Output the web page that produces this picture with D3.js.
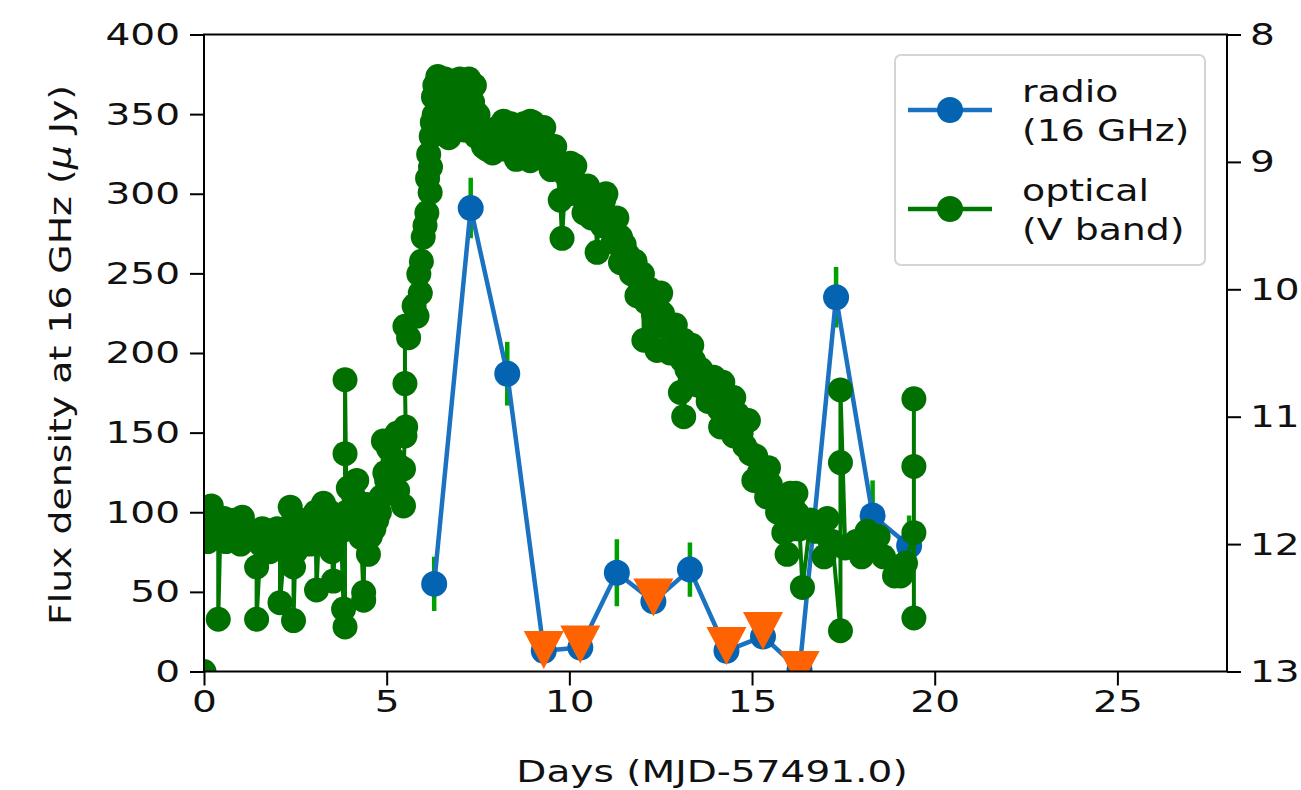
<!DOCTYPE html>
<html><head><meta charset="utf-8">
<script src="https://cdn.jsdelivr.net/npm/d3@7"></script>
<style>body{margin:0;background:#fff;} svg{display:block;} text{font-family:"DejaVu Sans",sans-serif;}</style>
</head><body><svg id="c" width="1301" height="790"></svg>
<script>
// ---------- data ----------
const xTicks = [0, 5, 10, 15, 20, 25];
const yTicksLeft = [0, 50, 100, 150, 200, 250, 300, 350, 400];
const yTicksRight = [8, 9, 10, 11, 12, 13];

// radio (16 GHz) flux density, micro-Jy
const radioDays = [6.3, 7.3, 8.3, 9.3, 10.3, 11.3, 12.3, 13.3, 14.3, 15.3, 16.3, 17.3, 18.3, 19.3];
const radioFlux = [55, 291, 187, 13, 15, 62, 44, 64, 13, 22, 1, 235, 98, 79];
const radioErr  = [17, 19, 20, 0, 0, 21, 0, 17, 0, 0, 0, 19, 22, 19];

// radio upper limits
const limitDays = [9.3, 10.3, 12.3, 14.3, 15.3, 16.3];
const limitFlux = [13.5, 17, 46.5, 16, 25.5, 1];

// optical V-band: [day, magnitude]
const optical = [
[0.05,11.75],[0.10,11.98],[0.15,11.85],[0.20,11.70],[0.30,11.81],[0.39,11.93],[0.39,12.59],[0.45,11.88],[0.55,11.80],[0.60,11.98],
[0.75,11.85],[0.85,11.81],[0.90,11.94],[1.00,12.00],[1.05,11.79],[1.15,11.88],[1.30,11.93],[1.44,11.90],[1.44,12.18],[1.44,12.59],
[1.55,12.00],[1.60,11.88],[1.72,11.94],[1.80,12.06],[1.90,12.00],[2.00,11.88],[2.08,11.94],[2.08,12.46],[2.20,12.04],[2.30,11.94],
[2.36,11.71],[2.40,11.84],[2.45,12.18],[2.45,12.60],[2.50,12.06],[2.60,12.00],[2.80,11.81],[2.90,12.00],[2.95,11.85],[3.05,11.75],
[3.08,12.36],[3.15,11.88],[3.20,11.94],[3.27,11.68],[3.30,11.80],[3.40,11.94],[3.45,11.75],[3.50,12.06],[3.54,12.29],[3.60,11.88],
[3.70,11.78],[3.75,11.90],[3.82,12.51],[3.86,12.65],[3.86,11.29],[3.86,10.71],[3.90,11.75],[3.95,11.56],[4.00,11.88],[4.05,11.75],
[4.10,11.63],[4.18,11.50],[4.20,11.69],[4.25,11.81],[4.30,11.95],[4.37,12.44],[4.37,12.38],[4.40,11.86],[4.45,11.69],[4.50,12.08],
[4.55,11.94],[4.60,11.75],[4.65,11.88],[4.73,11.81],[4.80,11.75],[4.85,11.63],[4.91,11.19],[4.95,11.44],[5.00,11.50],[5.05,11.25],
[5.10,11.60],[5.20,11.34],[5.28,11.13],[5.30,11.58],[5.35,11.39],[5.46,11.70],[5.46,11.41],[5.50,11.15],[5.52,11.08],[5.50,10.74],
[5.50,10.29],[5.60,10.38],[5.75,10.13],[5.83,10.21],[5.88,9.88],[5.92,10.03],[5.95,9.78],[6.00,9.59],[6.05,9.50],[6.10,9.40],
[6.12,9.13],[6.15,8.94],[6.19,9.24],[6.20,9.04],[6.22,8.80],[6.25,8.69],[6.28,8.49],[6.30,8.63],[6.32,8.40],[6.40,8.33],
[6.45,8.48],[6.50,8.69],[6.55,8.56],[6.60,8.35],[6.65,8.40],[6.70,8.81],[6.75,8.69],[6.80,8.50],[6.85,8.38],[6.90,8.75],
[6.95,8.60],[7.00,8.35],[7.05,8.44],[7.10,8.65],[7.15,8.75],[7.20,8.48],[7.25,8.35],[7.30,8.75],[7.35,8.53],[7.40,8.40],
[7.45,8.80],[7.50,8.63],[7.55,8.73],[7.65,8.88],[7.70,8.75],[7.74,8.90],[7.85,8.78],[7.90,8.93],[8.00,8.88],[8.05,8.73],
[8.10,8.75],[8.20,8.68],[8.25,8.90],[8.35,8.81],[8.40,8.70],[8.50,8.88],[8.55,8.98],[8.60,8.75],[8.70,8.83],[8.75,8.70],
[8.85,8.88],[8.93,8.68],[8.93,8.99],[9.00,8.69],[9.10,8.81],[9.20,8.90],[9.30,8.73],[9.40,8.98],[9.50,9.06],[9.60,8.88],
[9.66,9.04],[9.75,9.30],[9.80,9.60],[9.90,9.10],[10.00,9.25],[10.03,9.01],[10.10,9.13],[10.15,9.03],[10.20,9.25],[10.30,9.19],
[10.40,9.40],[10.45,9.31],[10.50,9.19],[10.60,9.44],[10.70,9.30],[10.76,9.71],[10.80,9.38],[10.90,9.50],[10.94,9.30],[11.00,9.25],
[11.10,9.50],[11.20,9.63],[11.30,9.44],[11.40,9.59],[11.40,9.79],[11.50,9.65],[11.60,9.73],[11.70,9.88],[11.80,9.78],[11.85,10.05],
[11.95,10.00],[12.00,9.88],[12.04,10.40],[12.10,10.10],[12.20,10.00],[12.30,10.19],[12.35,10.28],[12.40,10.48],[12.50,10.03],[12.55,10.19],
[12.60,10.25],[12.70,10.31],[12.75,10.50],[12.85,10.50],[12.90,10.28],[13.00,10.44],[13.04,10.81],[13.10,10.56],[13.13,10.40],[13.13,11.00],
[13.22,10.63],[13.30,10.73],[13.35,10.44],[13.40,10.56],[13.50,10.75],[13.60,10.63],[13.70,10.78],[13.80,10.88],[13.95,10.69],[14.00,10.78],
[14.10,10.94],[14.14,11.08],[14.20,10.73],[14.32,10.84],[14.40,11.00],[14.50,10.85],[14.50,11.15],[14.60,10.98],[14.70,11.13],[14.80,11.23],
[14.90,11.03],[14.96,11.29],[15.05,11.50],[15.10,11.31],[15.20,11.44],[15.30,11.53],[15.40,11.63],[15.45,11.40],[15.50,11.53],[15.60,11.63],
[15.70,11.75],[15.80,11.68],[15.87,11.91],[15.96,12.08],[16.00,11.75],[16.05,11.60],[16.10,11.69],[16.15,11.88],[16.20,11.60],[16.24,11.76],
[16.30,11.88],[16.38,12.34],[16.60,11.81],[16.75,11.90],[16.97,12.10],[17.06,11.80],[17.20,11.98],[17.42,12.68],[17.42,11.36],[17.42,10.79],
[17.55,12.03],[17.85,11.98],[18.00,12.10],[18.15,11.90],[18.30,12.03],[18.45,11.94],[18.60,12.10],[18.90,12.25],[19.07,12.25],[19.20,12.15],
[19.43,11.91],[19.43,10.86],[19.43,11.39],[19.43,12.58]
];
// isolated faint optical point (not joined)
const opticalFaint = [[0.0, 13.0]];

const legendLabels = [["radio", "(16 GHz)"], ["optical", "(V band)"]];

// ---------- layout ----------
const X0 = 204, X1 = 1227, Y0 = 34.5, Y1 = 671.5;
const FS = 31, SX = 1.26;
const C_BLUE_LINE = "#1a72c0", C_BLUE = "#0564b2", C_GREEN = "#007800", C_GREEN_M = "#007000", C_ORANGE = "#ff6200";

const svg = d3.select("#c");
const x = d3.scaleLinear().domain([0, 28]).range([X0, X1]);
const yL = d3.scaleLinear().domain([0, 400]).range([Y1, Y0]);
const yR = d3.scaleLinear().domain([8, 13]).range([Y0, Y1]);

function stretch(sel, k) {
  sel.each(function () {
    const w = this.getComputedTextLength();
    if (w > 0) { this.setAttribute("textLength", w * k); this.setAttribute("lengthAdjust", "spacingAndGlyphs"); }
  });
}

svg.append("defs").append("clipPath").attr("id", "clip")
  .append("rect").attr("x", X0).attr("y", Y0).attr("width", X1 - X0).attr("height", Y1 - Y0);

const plot = svg.append("g").attr("clip-path", "url(#clip)");

// radio error bars
const radio = radioDays.map((d, i) => ({ d, f: radioFlux[i], e: radioErr[i] }));
plot.append("g").selectAll("line").data(radio.filter(r => r.e > 0)).join("line")
  .attr("x1", r => x(r.d)).attr("x2", r => x(r.d))
  .attr("y1", r => yL(r.f - r.e)).attr("y2", r => yL(r.f + r.e))
  .attr("stroke", "#00a000").attr("stroke-width", 4.5);

// radio line + markers
plot.append("path").datum(radio)
  .attr("d", d3.line().x(r => x(r.d)).y(r => yL(r.f)))
  .attr("fill", "none").attr("stroke", C_BLUE_LINE).attr("stroke-width", 4.5).attr("stroke-linejoin", "round");
plot.append("g").selectAll("circle").data(radio).join("circle")
  .attr("cx", r => x(r.d)).attr("cy", r => yL(r.f)).attr("r", 13).attr("fill", C_BLUE);

// upper limit triangles
const limits = limitDays.map((d, i) => ({ d, f: limitFlux[i] }));
plot.append("g").selectAll("path").data(limits).join("path")
  .attr("transform", l => `translate(${x(l.d)},${yL(l.f)})`)
  .attr("d", "M-20,-19L20,-19L0,19Z").attr("fill", C_ORANGE);

// optical
plot.append("path").datum(optical)
  .attr("d", d3.line().x(o => x(o[0])).y(o => yR(o[1])))
  .attr("fill", "none").attr("stroke", C_GREEN).attr("stroke-width", 4).attr("stroke-linejoin", "round");
plot.append("g").selectAll("circle").data(optical.concat(opticalFaint)).join("circle")
  .attr("cx", o => x(o[0])).attr("cy", o => yR(o[1])).attr("r", 12.5).attr("fill", C_GREEN_M);

// spines
svg.append("rect").attr("x", X0).attr("y", Y0).attr("width", X1 - X0).attr("height", Y1 - Y0)
  .attr("fill", "none").attr("stroke", "#000").attr("stroke-width", 2);

function styleAxis(g) {
  g.select(".domain").remove();
  g.attr("font-size", FS).attr("font-family", "DejaVu Sans");
  g.selectAll(".tick line").attr("stroke", "#000").attr("stroke-width", 2);
  g.selectAll(".tick text").attr("fill", "#111");
  stretch(g.selectAll(".tick text"), SX);
}

const gx = svg.append("g").attr("transform", `translate(0,${Y1})`)
  .call(d3.axisBottom(x).tickValues(xTicks).tickSize(14).tickPadding(4).tickSizeOuter(0).tickFormat(d3.format("d")));
styleAxis(gx);
const gl = svg.append("g").attr("transform", `translate(${X0},0)`)
  .call(d3.axisLeft(yL).tickValues(yTicksLeft).tickSize(14).tickPadding(10).tickSizeOuter(0).tickFormat(d3.format("d")));
styleAxis(gl);
const gr = svg.append("g").attr("transform", `translate(${X1},0)`)
  .call(d3.axisRight(yR).tickValues(yTicksRight).tickSize(14).tickPadding(9).tickSizeOuter(0).tickFormat(d3.format("d")));
styleAxis(gr);

// axis labels
const xl = svg.append("text").attr("x", 712).attr("y", 782).attr("text-anchor", "middle")
  .attr("font-size", FS).attr("fill", "#111").text("Days (MJD-57491.0)");
stretch(xl, SX);
const yl = svg.append("text").attr("transform", `translate(71,${(Y0 + Y1) / 2 + 2}) rotate(-90)`).attr("text-anchor", "middle")
  .attr("font-size", FS).attr("fill", "#111");
yl.append("tspan").text("Flux density at 16 GHz (");
yl.append("tspan").attr("font-style", "italic").text("\u03bc");
yl.append("tspan").text(" Jy)");
yl.selectAll("tspan").each(function () {
  const w = this.getComputedTextLength();
  this.setAttribute("textLength", w * 1.22); this.setAttribute("lengthAdjust", "spacingAndGlyphs");
});

// legend
const lg = svg.append("g");
lg.append("rect").attr("x", 895).attr("y", 55).attr("width", 310).attr("height", 210).attr("rx", 6)
  .attr("fill", "#fff").attr("fill-opacity", 0.85).attr("stroke", "#d4d4d4").attr("stroke-width", 2);
const handles = [{ y: 110, line: C_BLUE_LINE, mark: C_BLUE }, { y: 209, line: C_GREEN, mark: C_GREEN_M }];
handles.forEach((h, i) => {
  lg.append("line").attr("x1", 908).attr("x2", 992).attr("y1", h.y).attr("y2", h.y).attr("stroke", h.line).attr("stroke-width", 4.5);
  lg.append("circle").attr("cx", 950).attr("cy", h.y).attr("r", 13).attr("fill", h.mark);
  const t = lg.append("text").attr("x", 1022).attr("y", h.y - 8).attr("font-size", FS).attr("fill", "#111");
  t.append("tspan").attr("x", 1022).attr("dy", 0).text(legendLabels[i][0]);
  t.append("tspan").attr("x", 1022).attr("dy", 39).text(legendLabels[i][1]);
  stretch(t.selectAll("tspan"), 1.22);
});
</script></body></html>
